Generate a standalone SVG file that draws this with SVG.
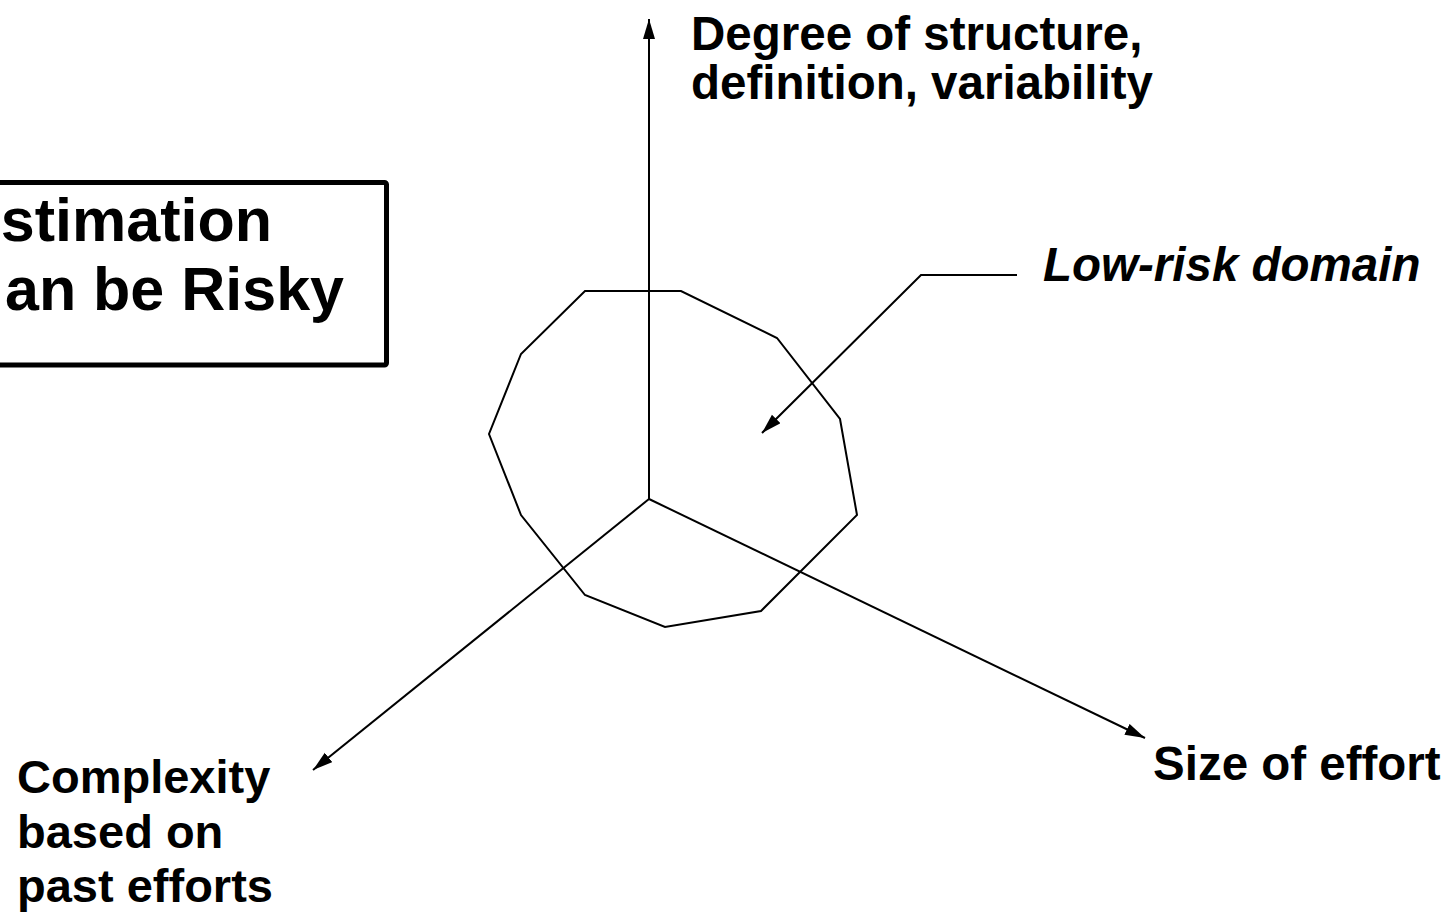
<svg xmlns="http://www.w3.org/2000/svg" width="1450" height="914" viewBox="0 0 1450 914">
<style>
.lbl{font-family:"Liberation Sans",Arial,sans-serif;font-weight:bold;font-size:47.5px;fill:#000}
.ttl{font-family:"Liberation Sans",Arial,sans-serif;font-weight:bold;font-size:61px;fill:#000}
.ln{stroke:#000;stroke-width:2;fill:none}
</style>
<defs>
<marker id="ah" markerUnits="userSpaceOnUse" markerWidth="22" markerHeight="14" refX="20" refY="6" orient="auto">
<path d="M0,0 L20,6 L0,12 Z" fill="#000"/>
</marker>
</defs>
<rect width="1450" height="914" fill="#fff"/>
<g id="title">
<rect x="-20" y="182.5" width="406.5" height="182.5" rx="2" fill="#fff" stroke="#000" stroke-width="5"/>
<text class="ttl" x="272" y="241" text-anchor="end">stimation</text>
<text class="ttl" x="344" y="310" text-anchor="end">an be Risky</text>
</g>
<g id="domain">
<polygon class="ln" points="585,291 681,291 777,338 840,419 857,515 761,611 665,627 585,595 521,515 489,434 521,354"/>
</g>
<g id="connectors">
<line class="ln" x1="649" y1="499" x2="649" y2="19" marker-end="url(#ah)"/>
<line class="ln" x1="649" y1="499" x2="313" y2="770" marker-end="url(#ah)"/>
<line class="ln" x1="649" y1="499" x2="1145" y2="738" marker-end="url(#ah)"/>
<polyline class="ln" points="1017,275 921,275 762,433" marker-end="url(#ah)"/>
</g>
<g id="label-vertical">
<text class="lbl" x="691" y="50">Degree of structure,</text>
<text class="lbl" x="691" y="99">definition, variability</text>
</g>
<g id="label-lowrisk">
<text class="lbl" x="1043" y="281" font-style="italic">Low-risk domain</text>
</g>
<g id="label-size">
<text class="lbl" x="1153" y="780">Size of effort</text>
</g>
<g id="label-complexity">
<text class="lbl" x="17" y="793" style="font-size:47px">Complexity</text>
<text class="lbl" x="17" y="848" style="font-size:47px">based on</text>
<text class="lbl" x="17" y="902" style="font-size:47px">past efforts</text>
</g>
</svg>
